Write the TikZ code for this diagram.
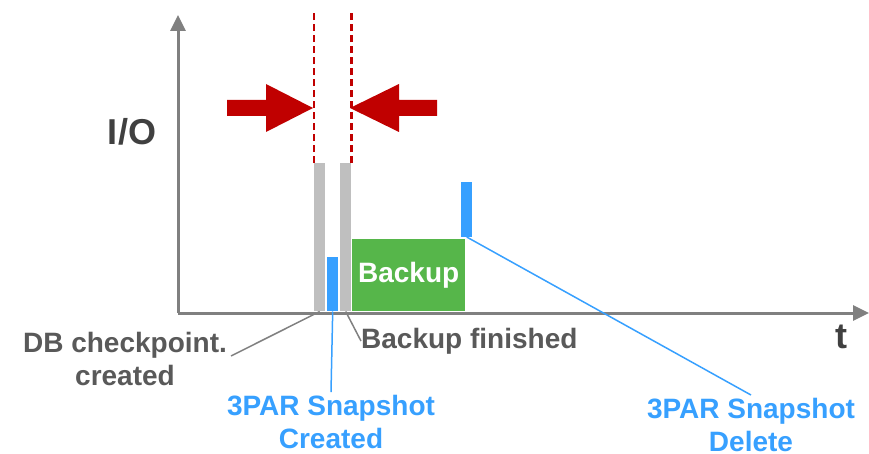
\documentclass[tikz,border=0pt]{standalone}
\usepackage{fontspec}
\setmainfont{Liberation Sans}
\usepackage{xcolor}
\usepackage{tikz}
\usetikzlibrary{positioning,arrows.meta}

\definecolor{axisgray}{RGB}{128,128,128}
\definecolor{bargray}{RGB}{191,191,191}
\definecolor{snapblue}{RGB}{55,160,255}
\definecolor{backupgreen}{RGB}{86,182,74}
\definecolor{markred}{RGB}{192,0,0}
\definecolor{labelgray}{RGB}{89,89,89}
\definecolor{titlegray}{RGB}{64,64,64}

\begin{document}
\begin{tikzpicture}[x=1pt,y=-1pt,
    axis/.style={axisgray,line width=3pt,-{Triangle[length=16pt,width=15pt]}},
    bar/.style={draw=none,inner sep=0pt,minimum width=11pt,anchor=south west},
    guide/.style={markred,line width=2.5pt,dash pattern=on 7pt off 4pt},
    lead/.style={line width=1.5pt},
    lbl/.style={font=\bfseries\fontsize{28}{33}\selectfont,align=center,inner sep=3pt},
    big/.style={font=\bfseries\fontsize{36}{40}\selectfont,text=titlegray,inner sep=0pt}]
    \useasboundingbox (0,0) rectangle (869,454);

    \coordinate (origin) at (178,313);
    \draw[axis] (origin) -- (178,15);
    \draw[axis] (origin) -- (869,313);

    \node[bar,fill=bargray,minimum height=148pt] (chk) at (314,311.5) {};
    \node[bar,fill=snapblue,minimum height=54pt] (snap) at (327,311.5) {};
    \node[bar,fill=bargray,minimum height=148pt] (fin) at (340,311.5) {};
    \node[bar,fill=backupgreen,minimum width=113pt,minimum height=72pt,
        text=white,font=\bfseries\fontsize{28}{30}\selectfont] (bk) at (352,311.5) {Backup};
    \node[bar,fill=snapblue,minimum height=55pt] (del) at (461,237) {};

    \draw[guide] (chk.north west) -- ++(0,-151);
    \draw[guide] (fin.north east) -- ++(0,-151);

    \fill[markred] (227,100) -- (266,100) -- (266,84) -- (313,108) -- (266,132) -- (266,116) -- (227,116) -- cycle;
    \fill[markred] (437,100) -- (399,100) -- (399,84) -- (350,108) -- (399,132) -- (399,116) -- (437,116) -- cycle;

    \node[big] (io) at (132,132) {I/O};
    \node[big] (tlbl) at (841,337) {t};

    \node[lbl,text=labelgray] (chklbl) at (125,359) {DB checkpoint.\\created};
    \node[lbl,text=labelgray,anchor=west,inner sep=0pt] (finlbl) at (361,341) {Backup finished};
    \node[lbl,text=snapblue] (crlbl) at (331,422) {3PAR Snapshot\\Created};
    \node[lbl,text=snapblue] (dellbl) at (751,425) {3PAR Snapshot\\Delete};

    \coordinate (chkend) at (231,356);
    \draw[lead,axisgray] (chkend) -- (chk.south);
    \draw[lead,axisgray] (fin.south) -- (finlbl.west);
    \draw[lead,snapblue] (snap.south) -- (crlbl.north);
    \draw[lead,snapblue] (del.south) -- (dellbl.north);
\end{tikzpicture}
\end{document}
